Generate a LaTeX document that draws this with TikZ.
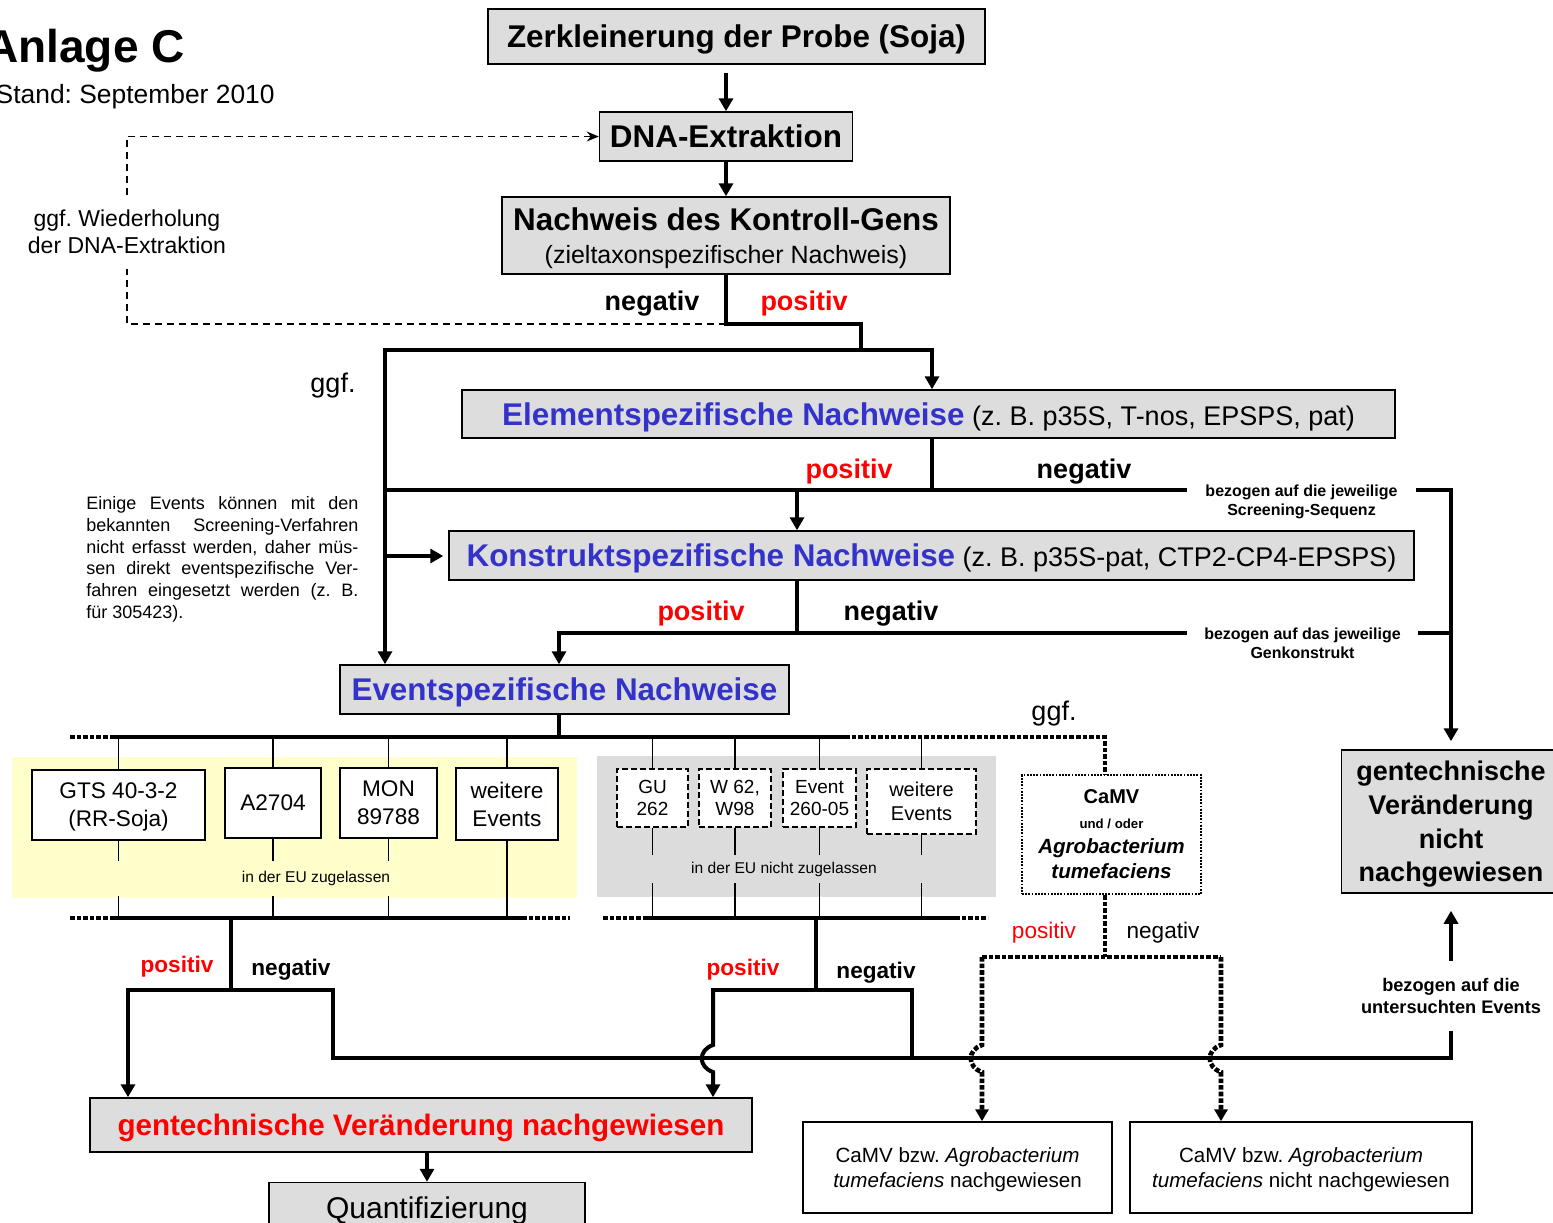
\documentclass[tikz,border=0pt]{standalone}
\usepackage{fontspec}
\setmainfont{Liberation Sans}
\usetikzlibrary{arrows.meta}
\frenchspacing

\definecolor{boxgray}{RGB}{221,221,221}
\definecolor{ybg}{RGB}{255,255,204}
\definecolor{regray}{RGB}{220,220,220}
\definecolor{tblue}{RGB}{51,51,204}
\definecolor{tred}{RGB}{255,0,0}

\newcommand\fhead{\fontsize{15.7}{16.5}\selectfont\bfseries}
\newcommand\fsub{\fontsize{12.5}{15}\selectfont\mdseries}
\newcommand\fpar{\fontsize{13.5}{16}\selectfont\mdseries}
\newcommand\fev{\fontsize{11.3}{14}\selectfont}
\newcommand\fevs{\fontsize{9.5}{11}\selectfont}

\tikzset{
  gbox/.style={draw, line width=0.75pt, fill=boxgray, inner sep=0pt, align=center},
  wbox/.style={draw, line width=0.75pt, fill=white, inner sep=0pt, align=center},
  dbox/.style={wbox, line width=1.1pt, dash pattern=on 3pt off 1.5pt, font=\fevs},
  pbox/.style={wbox, line width=0.9pt, dash pattern=on 0.9pt off 0.7pt},
  conn/.style={line width=2pt, line cap=rect},
  arr/.style={conn, -{Triangle[width=7pt,length=6.5pt]}},
  dots/.style={line width=2.3pt, dash pattern=on 2.3pt off 1pt},
  darr/.style={dots, -{Triangle[width=6.5pt,length=6pt]}},
  tick/.style={line width=0.7pt},
  dashln/.style={line width=0.75pt, dash pattern=on 3.5pt off 2.5pt},
  txt/.style={inner sep=0pt, align=center},
  neglbl/.style={txt, font=\fontsize{13.5}{16}\selectfont\bfseries},
  poslbl/.style={neglbl, text=tred},
  negsml/.style={txt, font=\fontsize{11.3}{13}\selectfont\bfseries},
  possml/.style={negsml, text=tred},
}

\begin{document}
\begin{tikzpicture}[x=0.5pt, y=-0.5pt]
\useasboundingbox (0,0) rectangle (1553,1222);

\node[anchor=base east, inner sep=0pt, font=\fontsize{23}{27}\selectfont\bfseries] (anlage) at (185,62) {Anlage C};
\node[anchor=base east, inner sep=0pt, font=\fontsize{13.2}{16}\selectfont] (stand) at (275,103) {Stand: September 2010};

\node[gbox, minimum width=248.5pt, minimum height=27.5pt, font=\fhead, text depth=-1.2pt] (zerkl) at (736.5,36.5) {Zerkleinerung der Probe (Soja)};
\node[gbox, minimum width=126.5pt, minimum height=24.5pt, font=\fhead, text depth=-4pt] (dna) at (726,136.5) {DNA-Extraktion};
\node[gbox, minimum width=224pt, minimum height=38.5pt, font=\fhead, text depth=-6.4pt] (kontroll) at (726,235.5) {Nachweis des Kontroll-Gens\\{\fsub (zieltaxonspezifischer Nachweis)}};
\node[gbox, minimum width=466.5pt, minimum height=24pt, text depth=-4pt] (element) at (928.5,414) {{\fhead\color{tblue}Elementspezifische Nachweise}{\fpar{} (z. B. p35S, T-nos, EPSPS, pat)}};
\node[gbox, minimum width=482.5pt, minimum height=24.5pt, text depth=-4pt] (konstrukt) at (931.5,555.5) {{\fhead\color{tblue}Konstruktspezifische Nachweise}{\fpar{} (z. B. p35S-pat, CTP2-CP4-EPSPS)}};
\node[gbox, minimum width=224.5pt, minimum height=24.5pt, font=\fhead, text=tblue, text depth=-2.7pt] (event) at (564.5,689.5) {Eventspezifische Nachweise};

\node[txt, minimum height=36.5pt, font=\fontsize{11.5}{13.5}\selectfont] (wdh) at (127,232) {ggf. Wiederholung\\der DNA-Extraktion};
\node[anchor=north west, inner sep=0pt, text width=136pt, align=justify, font=\fontsize{9}{10.9}\selectfont] (hinweis) at (86,496) {Einige Events können mit den\linebreak
bekannten\ \ Screening-Verfahren\linebreak
nicht erfasst werden, daher müs-\linebreak
sen direkt eventspezifische Ver-\linebreak
fahren eingesetzt werden (z. B.\linebreak
für 305423).};
\node[txt, minimum width=116.5pt, font=\fontsize{8}{9.5}\selectfont\bfseries] (screen) at (1301.5,501.5) {bezogen auf die jeweilige\\Screening-Sequenz};
\node[txt, minimum width=117.5pt, font=\fontsize{8}{9.5}\selectfont\bfseries] (genk) at (1302.5,643) {bezogen auf das jeweilige\\Genkonstrukt};

\node[fill=ybg, inner sep=0pt, minimum width=282.5pt, minimum height=70.5pt] (zugel) at (294.5,827.5) {};
\node[fill=regray, inner sep=0pt, minimum width=199.5pt, minimum height=70.5pt] (nzugel) at (796.5,826.5) {};

\node[wbox, minimum width=86.5pt, minimum height=35pt, font=\fev, text depth=-5.6pt] (gts) at (118.5,805) {GTS 40-3-2\\(RR-Soja)};
\node[wbox, minimum width=48pt, minimum height=35pt, font=\fev, text depth=-4pt] (a2704) at (273,803) {A2704};
\node[wbox, minimum width=48.5pt, minimum height=35pt, font=\fev, text depth=-6.5pt] (mon) at (388.5,803) {MON\\89788};
\node[wbox, minimum width=51pt, minimum height=36pt, font=\fev, text depth=-4pt] (weiter) at (507,804) {weitere\\Events};
\node[dbox, minimum width=35.5pt, minimum height=29pt, text depth=-1pt] (gu) at (652.5,798) {GU\\262};
\node[dbox, minimum width=36pt, minimum height=29pt, text depth=-1pt] (w62) at (735,798) {W 62,\\W98};
\node[dbox, minimum width=36.5pt, minimum height=29pt, text depth=-1pt] (ev260) at (819.5,798) {Event\\260-05};
\node[dbox, minimum width=54.5pt, minimum height=32.5pt, font=\fontsize{10}{12}\selectfont, text depth=-1pt] (weiternz) at (921.5,801.5) {weitere\\Events};
\node[pbox, minimum width=89.5pt, minimum height=59.5pt, font=\fontsize{10}{12.5}\selectfont] (camv) at (1111.5,834.5) {{\bfseries CaMV}\\{\fontsize{6.6}{8}\selectfont\bfseries und / oder}\\{\fontsize{10.3}{12}\selectfont\bfseries\itshape Agrobacterium}\\{\fontsize{10.3}{12}\selectfont\bfseries\itshape tumefaciens}};
\node[gbox, minimum width=109.5pt, minimum height=71.5pt, font=\fontsize{13.5}{16.8}\selectfont\bfseries, text depth=-3pt] (gvnicht) at (1451,821.5) {gentechnische\\Veränderung\\nicht\\nachgewiesen};
\node[txt, minimum height=36.5pt, font=\fontsize{9.1}{11}\selectfont\bfseries] (unters) at (1451,996) {bezogen auf die\\untersuchten Events};

\node[gbox, minimum width=331pt, minimum height=27pt, font=\fontsize{14.8}{17}\selectfont\bfseries, text=tred, text depth=-3.9pt] (gvnach) at (421,1125) {gentechnische Veränderung nachgewiesen};
\node[gbox, minimum width=158pt, minimum height=25pt, font=\fontsize{15}{18}\selectfont, text depth=0pt] (quant) at (427,1207.5) {Quantifizierung};
\node[wbox, minimum width=154.5pt, minimum height=45.5pt, font=\fontsize{10.3}{12.5}\selectfont, text depth=-2.8pt] (camvja) at (957.5,1167.5) {CaMV bzw. \textit{Agrobacterium}\\\textit{tumefaciens} nachgewiesen};
\node[wbox, minimum width=171pt, minimum height=45.5pt, font=\fontsize{10.3}{12.5}\selectfont, text depth=-2.8pt] (camvnein) at (1301,1167.5) {CaMV bzw. \textit{Agrobacterium}\\\textit{tumefaciens} nicht nachgewiesen};

\coordinate (k1) at (726,324);
\coordinate (k2) at (861,324);
\coordinate (b1) at (385,350);
\coordinate (b2) at (932,350);
\coordinate (e1) at (932,490);
\coordinate (b3) at (385,490);
\coordinate (e2) at (797,490);
\coordinate (b4) at (385,556);
\coordinate (r1) at (1451,490);
\coordinate (c1) at (797,633);
\coordinate (c2) at (559,633);
\coordinate (v1) at (559,737);
\coordinate (tl0) at (70,737);
\coordinate (tl1) at (115,737);
\coordinate (tr) at (845,737);
\coordinate (tc) at (1105,737);
\coordinate (bl0) at (70,918);
\coordinate (bl1) at (115,918);
\coordinate (bl2) at (522,918);
\coordinate (bl3) at (570,918);
\coordinate (br0) at (603,918);
\coordinate (br1) at (645,918);
\coordinate (br2) at (955,918);
\coordinate (br3) at (988,918);
\coordinate (p1) at (231,918);
\coordinate (p2) at (231,990);
\coordinate (p3) at (128,990);
\coordinate (p4) at (333,990);
\coordinate (m1) at (1451,1058);
\coordinate (q1) at (816,918);
\coordinate (q2) at (816,990);
\coordinate (q3) at (713,990);
\coordinate (q4) at (912,990);
\coordinate (n1) at (1105,957);
\coordinate (n2) at (982,957);
\coordinate (n3) at (1221,957);

\draw[arr, shorten <=5pt] (dna.north |- zerkl.south) -- (dna.north);
\draw[arr] (dna.south) -- (kontroll.north);
\draw[conn] (kontroll.south) -- (k1) -- (k2) -- (k2 |- b1);
\draw[dashln] (k1) -| (wdh.south);
\draw[dashln, -{Stealth[length=6pt,width=5pt]}] (wdh.north) |- (dna.west);
\draw[arr] (b1) -| (element.north -| b2);
\draw[arr] (b1) -- (event.north -| b1);
\draw[conn] (element.south -| e1) -- (e1);
\draw[conn] (b3) -- (screen.west |- b3);
\draw[arr] (e2) -- (konstrukt.north -| e2);
\draw[arr, shorten >=2.5pt] (b4) -- (konstrukt.west |- b4);
\draw[arr, shorten >=4pt] (screen.east |- r1) -- (r1) -- (r1 |- gvnicht.north);
\draw[conn] (konstrukt.south -| c1) -- (c1);
\draw[conn] (c2) -- (genk.west |- c2);
\draw[conn] (genk.east |- c2) -- (r1 |- c2);
\draw[arr] (c2) -- (event.north -| c2);
\draw[conn] (event.south -| v1) -- (v1);

\draw[conn] (tl1) -- (tr);
\draw[dots] (tl0) -- (tl1);
\draw[dots] (tr) -- (tc) -- (camv.north -| tc);
\foreach \ev in {gts,a2704,mon,weiter,gu,w62,ev260,weiternz}
  \draw[tick] (\ev.north) -- (\ev.north |- tl1);
\foreach \ev in {gts,a2704,mon}
  \draw[tick] (\ev.south) -- (\ev.south |- bl1);
\foreach \ev in {gu,w62,ev260,weiternz}
  \draw[tick] (\ev.south) -- (\ev.south |- br1);
\node[txt, fill=ybg, minimum width=210pt, minimum height=17.5pt, font=\fontsize{7.8}{9}\selectfont] (zugtxt) at (316,878) {in der EU zugelassen};
\node[txt, fill=regray, minimum width=150pt, minimum height=14pt, font=\fontsize{7.8}{9}\selectfont] (nzugtxt) at (784,869) {in der EU nicht zugelassen};
\draw[tick] (weiter.south) -- (weiter.south |- bl1);

\draw[conn] (bl1) -- (bl2);
\draw[dots] (bl0) -- (bl1);
\draw[dots] (bl2) -- (bl3);
\draw[conn] (br1) -- (br2);
\draw[dots] (br0) -- (br1);
\draw[dots] (br2) -- (br3);

\draw[conn] (p1) -- (p2);
\draw[arr] (p4) -- (p3) -- (gvnach.north -| p3);
\draw[conn] (p4) -- (p4 |- m1) -- (m1) -- (unters.south);
\draw[arr, shorten >=8.5pt] (unters.north) -- (gvnicht.south);
\draw[conn] (q1) -- (q2);
\draw[conn] (q3) -- (q4) -- (q4 |- m1);
\draw[arr] (q3) -- (713,1045) .. controls (698,1050) and (698,1067) .. (713,1072) -- (gvnach.north -| q3);
\draw[arr] (gvnach.south -| quant.north) -- (quant.north);

\draw[dots] (camv.south -| tc) -- (n1);
\draw[dots] (n2) -- (n3);
\draw[darr] (n2) -- (982,1045) .. controls (967,1050) and (967,1067) .. (982,1072) -- (camvja.north -| n2);
\draw[darr] (n3) -- (1221,1045) .. controls (1206,1050) and (1206,1067) .. (1221,1072) -- (camvnein.north -| n3);

\node[neglbl] (negk) at (652,304) {negativ};
\node[poslbl] (posk) at (804,304) {positiv};
\node[poslbl] (pose) at (849,472) {positiv};
\node[neglbl] (nege) at (1084,472) {negativ};
\node[poslbl] (posc) at (701,614) {positiv};
\node[neglbl] (negc) at (891,614) {negativ};
\node[possml] (posz) at (177,967) {positiv};
\node[negsml] (negz) at (291,970) {negativ};
\node[possml] (posn) at (743,970) {positiv};
\node[negsml] (negn) at (876,973) {negativ};
\node[txt, text=tred, font=\fontsize{11.3}{13}\selectfont] (poscamv) at (1044,933) {positiv};
\node[txt, font=\fontsize{11.3}{13}\selectfont] (negcamv) at (1163,933) {negativ};
\node[txt, font=\fontsize{13.5}{16}\selectfont] (ggfa) at (333,386) {ggf.};
\node[txt, font=\fontsize{13.5}{16}\selectfont] (ggfb) at (1054,714) {ggf.};
\end{tikzpicture}
\end{document}
